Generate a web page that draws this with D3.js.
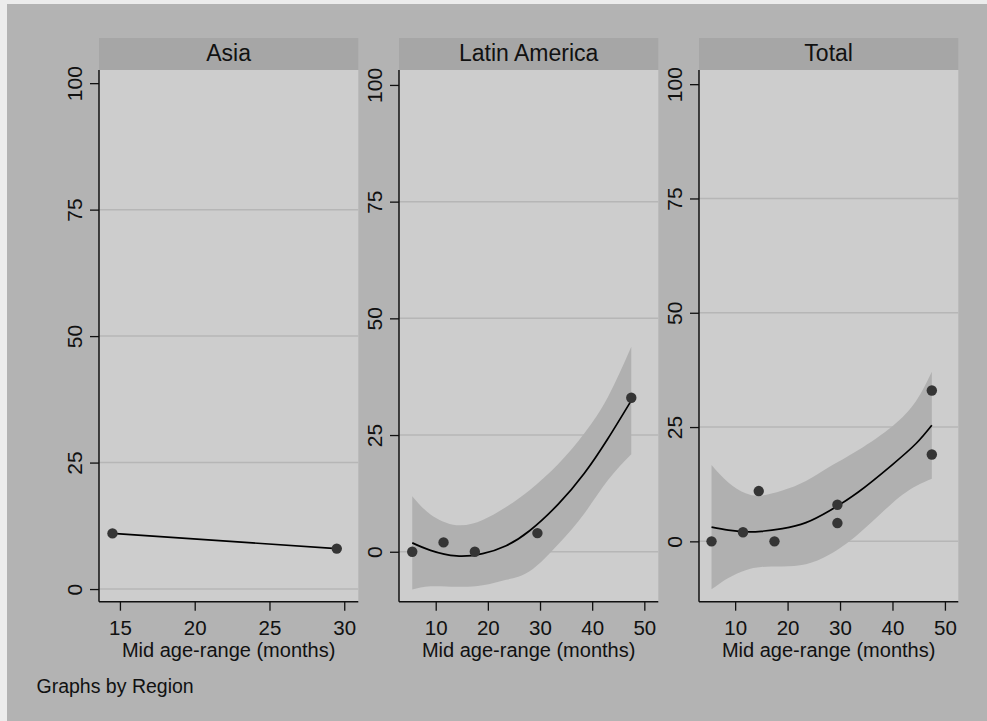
<!DOCTYPE html>
<html>
<head>
<meta charset="utf-8">
<script src="https://cdn.jsdelivr.net/npm/d3@7"></script>
<style>
  html, body { margin: 0; padding: 0; background: #ececec; }
  svg { display: block; font-family: "Liberation Sans", Arial, sans-serif; }
</style>
</head>
<body>
<script>
// Scatter data per region (x = mid age-range in months, y = percent)
const asiaX = [14.5, 29.5];
const asiaY = [11, 8];
const latamX = [5.5, 11.5, 17.5, 29.5, 47.5];
const latamY = [0, 2, 0, 4, 33];
const totalX = [5.5, 11.5, 14.5, 17.5, 29.5, 29.5, 47.5, 47.5];
const totalY = [0, 2, 11, 0, 8, 4, 33, 19];

// Quadratic fit + 95% CI
const asiaFitX = [14.5, 29.5];
const asiaFit = [11, 8];

const latamFitX = [5.5, 9, 14, 19, 23.5, 28, 33.5, 38.5, 43, 47.5];
const latamFit = [1.9, 0.3, -0.9, -0.4, 1.3, 4.5, 10.2, 16.8, 24.2, 32.4];
const latamHi = [11.9, 8.0, 5.7, 6.8, 9.6, 13.2, 18.8, 25.4, 33.1, 43.9];
const latamLo = [-8.1, -7.4, -7.5, -7.2, -6.0, -4.2, 1.6, 8.2, 15.3, 20.9];

const totalFitX = [5.5, 8.7, 12, 15, 19, 23.5, 28, 33.5, 40, 44.5, 47.5];
const totalFit = [3.1, 2.45, 2.1, 2.2, 2.8, 4.1, 6.7, 10.8, 16.8, 21.4, 25.4];
const totalHi = [16.7, 12.9, 10.5, 10.0, 11.1, 13.2, 16.3, 20.0, 25.2, 30.7, 37.1];
const totalLo = [-10.5, -8.0, -6.3, -5.6, -5.5, -5.0, -2.9, 1.6, 8.4, 12.1, 13.7];

const regions = ['Asia', 'Latin America', 'Total'];
const yTicks = [0, 25, 50, 75, 100];
const xTicksAsia = [15, 20, 25, 30];
const xTicksOther = [10, 20, 30, 40, 50];
const xTitle = 'Mid age-range (months)';
const note = 'Graphs by Region';

const W = 987, H = 721;
const C = {
  outer: '#b3b3b3', strip: '#a6a6a6', plot: '#cdcdcd', band: '#b0b0b0',
  grid: '#b6b6b6', dot: '#353535', axis: '#111'
};

const panels = [
  { name: regions[0], left: 99, xd: [13.6, 30.94], yd: [-2.5, 102.6], xt: xTicksAsia,
    px: asiaX, py: asiaY, fx: asiaFitX, fy: asiaFit },
  { name: regions[1], left: 399, xd: [2.96, 52.68], yd: [-10.7, 103.2], xt: xTicksOther,
    px: latamX, py: latamY, fx: latamFitX, fy: latamFit, hi: latamHi, lo: latamLo },
  { name: regions[2], left: 699, xd: [3.11, 52.55], yd: [-13.2, 103.1], xt: xTicksOther,
    px: totalX, py: totalY, fx: totalFitX, fy: totalFit, hi: totalHi, lo: totalLo }
];
const pw = 259.3, plotTop = 70, plotBottom = 601.7, stripTop = 38;

const svg = d3.select('body').append('svg')
  .attr('width', W).attr('height', H)
  .attr('viewBox', `0 0 ${W} ${H}`);

svg.append('rect').attr('x', 7).attr('y', 4)
  .attr('width', W - 7).attr('height', H - 4).attr('fill', C.outer);

panels.forEach(p => {
  const x = d3.scaleLinear().domain(p.xd).range([p.left, p.left + pw]);
  const y = d3.scaleLinear().domain(p.yd).range([plotBottom, plotTop]);
  const g = svg.append('g');

  // strip
  g.append('rect').attr('x', p.left).attr('y', stripTop)
    .attr('width', pw).attr('height', plotTop - stripTop).attr('fill', C.strip);
  g.append('text').attr('x', p.left + pw / 2).attr('y', 61)
    .attr('text-anchor', 'middle').attr('font-size', 23).attr('fill', '#111')
    .text(p.name);

  // plot region
  g.append('rect').attr('x', p.left).attr('y', plotTop)
    .attr('width', pw).attr('height', plotBottom - plotTop).attr('fill', C.plot);

  // gridlines
  g.selectAll('line.grid').data(yTicks.filter(d => d < 100)).join('line')
    .attr('class', 'grid')
    .attr('x1', p.left).attr('x2', p.left + pw)
    .attr('y1', d => y(d)).attr('y2', d => y(d))
    .attr('stroke', C.grid).attr('stroke-width', 1.5);

  // CI band
  if (p.hi) {
    const rows = p.fx.map((v, i) => ({ x: v, hi: p.hi[i], lo: p.lo[i] }));
    g.append('path').datum(rows)
      .attr('d', d3.area().curve(d3.curveNatural)
        .x(d => x(d.x)).y0(d => y(d.lo)).y1(d => y(d.hi)))
      .attr('fill', C.band);
  }

  // fit line
  const fit = p.fx.map((v, i) => ({ x: v, y: p.fy[i] }));
  g.append('path').datum(fit)
    .attr('d', d3.line().curve(d3.curveNatural).x(d => x(d.x)).y(d => y(d.y)))
    .attr('fill', 'none').attr('stroke', '#000').attr('stroke-width', 1.7);

  // points
  const pts = p.px.map((v, i) => ({ x: v, y: p.py[i] }));
  g.selectAll('circle').data(pts).join('circle')
    .attr('cx', d => x(d.x)).attr('cy', d => y(d.y)).attr('r', 5.2)
    .attr('fill', C.dot);

  // y axis
  const ya = g.append('g').attr('transform', `translate(${p.left},0)`)
    .call(d3.axisLeft(y).tickValues(yTicks).tickSize(9).tickFormat(d3.format('d')));
  ya.select('.domain').attr('stroke', C.axis).attr('stroke-width', 1.5)
    .attr('d', `M0,${plotTop}V${plotBottom}`);
  ya.selectAll('.tick line').attr('stroke', C.axis).attr('stroke-width', 1.3);
  ya.selectAll('.tick text').attr('font-size', 21).attr('fill', '#111')
    .attr('x', null).attr('dy', null)
    .attr('text-anchor', 'middle')
    .attr('transform', 'translate(-17,0) rotate(-90)');

  // x axis
  const xa = g.append('g').attr('transform', `translate(0,${plotBottom})`)
    .call(d3.axisBottom(x).tickValues(p.xt).tickSize(9).tickFormat(d3.format('d')));
  xa.select('.domain').attr('stroke', C.axis).attr('stroke-width', 1.5)
    .attr('d', `M${p.left},0H${p.left + pw}`);
  xa.selectAll('.tick line').attr('stroke', C.axis).attr('stroke-width', 1.3);
  xa.selectAll('.tick text').attr('font-size', 20.5).attr('fill', '#111')
    .attr('dy', null).attr('y', 33);

  g.append('text').attr('x', p.left + pw / 2).attr('y', 656.5)
    .attr('text-anchor', 'middle').attr('font-size', 20).attr('fill', '#111')
    .text(xTitle);
});

svg.append('text').attr('x', 36.5).attr('y', 692.5)
  .attr('font-size', 19.5).attr('fill', '#111').text(note);
</script>
</body>
</html>
